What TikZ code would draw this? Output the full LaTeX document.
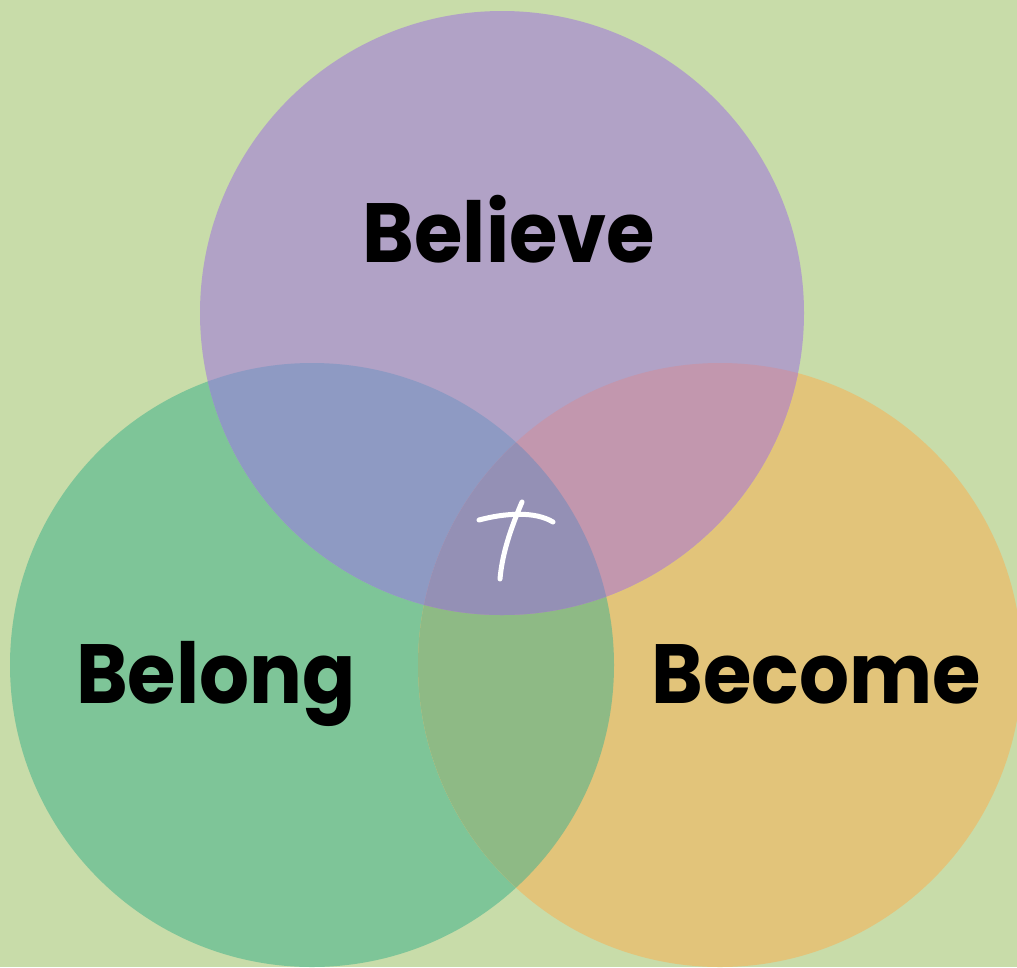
\documentclass[tikz,border=0pt]{standalone}
\usepackage{fontspec}
\setmainfont{Poppins}[BoldFont=Poppins Bold, BoldFeatures={FakeStretch=0.935}]
\definecolor{bg}{RGB}{200,220,169}
\definecolor{cP}{RGB}{177,162,198}
\definecolor{cG}{RGB}{126,197,152}
\definecolor{cO}{RGB}{226,196,122}
\definecolor{cPG}{RGB}{142,154,195}
\definecolor{cPO}{RGB}{194,151,174}
\definecolor{cGO}{RGB}{142,186,133}
\definecolor{cPGO}{RGB}{148,144,181}
\begin{document}
\begin{tikzpicture}[x=1pt,y=-1pt,
  lbl/.style={font=\fontsize{84}{84}\selectfont\bfseries, text=black, inner sep=0pt, anchor=base}]
\fill[bg] (0,0) rectangle (1017,967);
\useasboundingbox (0,0) rectangle (1017,967);
\def\rr{302}
\coordinate (cp) at (502,313);
\coordinate (cg) at (312,665);
\coordinate (co) at (720,665);
\fill[cG] (cg) circle (\rr);
\fill[cO] (co) circle (\rr);
\fill[cP] (cp) circle (\rr);
\begin{scope}
  \clip (cg) circle (\rr);
  \fill[cGO] (co) circle (\rr);
\end{scope}
\begin{scope}
  \clip (cp) circle (\rr);
  \fill[cPG] (cg) circle (\rr);
  \fill[cPO] (co) circle (\rr);
  \clip (cg) circle (\rr);
  \fill[cPGO] (co) circle (\rr);
\end{scope}
\node[lbl] (believe) at (509,262) {Believe};
\node[lbl] (belong) at (216,703) {Belong};
\node[lbl] (become) at (816,703) {Become};
\draw[white, line width=5pt, line cap=round] (479,520) .. controls (505,513) and (535,511) .. (553,522);
\draw[white, line width=5pt, line cap=round] (522,502) .. controls (510,530) and (502,555) .. (500,579);
\end{tikzpicture}
\end{document}
